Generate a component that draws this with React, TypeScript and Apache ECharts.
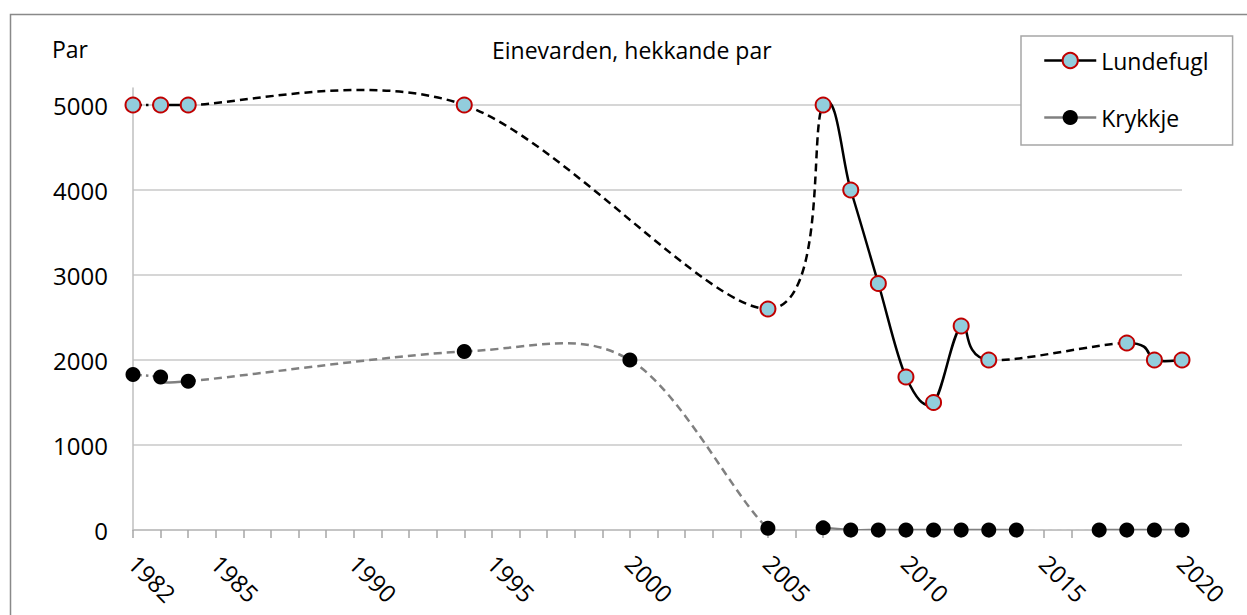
import React, { useEffect, useRef } from "react";
import * as echarts from "echarts";

const categories = [
  "1982", "1983", "1984", "1985", "1986", "1987", "1988", "1989", "1990", "1991",
  "1992", "1993", "1994", "1995", "1996", "1997", "1998", "1999", "2000", "2001",
  "2002", "2003", "2004", "2005", "2006", "2007", "2008", "2009", "2010", "2011",
  "2012", "2013", "2014", "2015", "2016", "2017", "2018", "2019", "2020",
];
const labelledYears = ["1982", "1985", "1990", "1995", "2000", "2005", "2010", "2015", "2020"];

const yMin = 0;
const yMax = 5200;
const yInterval = 1000;

const puffinName = "Lundefugl";
const puffinYears = ["1982", "1983", "1984", "1994", "2005", "2007", "2008", "2009", "2010", "2011", "2012", "2013", "2018", "2019", "2020"];
const puffinValues = [5000, 5000, 5000, 5000, 2600, 5000, 4000, 2900, 1800, 1500, 2400, 2000, 2200, 2000, 2000];
const puffinSegmentStyles = ["dotted", "solid", "dashed", "dashed", "dashed", "solid", "solid", "solid", "solid", "solid", "solid", "dashed", "solid", "solid"];

const kittiwakeName = "Krykkje";
const kittiwakeYears = ["1982", "1983", "1984", "1994", "2000", "2005", "2007", "2008", "2009", "2010", "2011", "2012", "2013", "2014", "2017", "2018", "2019", "2020"];
const kittiwakeValues = [1830, 1800, 1750, 2100, 2000, 20, 25, 0, 0, 0, 0, 0, 0, 0, 0, 0, 0, 0];
const kittiwakeSegmentStyles = ["dotted", "solid", "dashed", "dashed", "dashed", "light", "solid", "solid", "solid", "solid", "solid", "solid", "solid", "light", "solid", "solid", "solid"];

const FONT = "'Open Sans', sans-serif";

type SegStyle = { stroke: string; lineWidth: number; lineDash: number[] | null; lineCap: string };

function puffinStyle(kind: string): SegStyle {
  if (kind === "dotted") return { stroke: "#000000", lineWidth: 2.5, lineDash: [2.5, 4], lineCap: "butt" };
  if (kind === "dashed") return { stroke: "#000000", lineWidth: 2.5, lineDash: [8, 5], lineCap: "butt" };
  return { stroke: "#000000", lineWidth: 2.5, lineDash: null, lineCap: "round" };
}

function kittiwakeStyle(kind: string): SegStyle {
  if (kind === "dotted") return { stroke: "#808080", lineWidth: 2.5, lineDash: [2.5, 4], lineCap: "butt" };
  if (kind === "dashed") return { stroke: "#808080", lineWidth: 2.5, lineDash: [8, 5], lineCap: "butt" };
  if (kind === "light") return { stroke: "#c8c8c8", lineWidth: 2, lineDash: [5, 4], lineCap: "butt" };
  return { stroke: "#808080", lineWidth: 2.5, lineDash: null, lineCap: "round" };
}

function curveSeries(name: string, xs: string[], ys: number[], kinds: string[], styleOf: (k: string) => SegStyle) {
  const idx = xs.map((x) => categories.indexOf(x));
  const data = kinds.map((_, i) => [idx[i], ys[i], idx[i + 1], ys[i + 1]]);
  return {
    type: "custom",
    name,
    z: 2,
    silent: true,
    clip: true,
    encode: { x: [0, 2], y: [1, 3] },
    data,
    renderItem: (params: any, api: any) => {
      const i = params.dataIndex;
      const pt = (k: number) => {
        const kk = Math.max(0, Math.min(idx.length - 1, k));
        return api.coord([idx[kk], ys[kk]]);
      };
      const p0 = pt(i - 1);
      const p1 = pt(i);
      const p2 = pt(i + 1);
      const p3 = pt(i + 2);
      const t = 1 / 6;
      const s = styleOf(kinds[i]);
      return {
        type: "bezierCurve",
        shape: {
          x1: p1[0],
          y1: p1[1],
          x2: p2[0],
          y2: p2[1],
          cpx1: p1[0] + (p2[0] - p0[0]) * t,
          cpy1: p1[1] + (p2[1] - p0[1]) * t,
          cpx2: p2[0] - (p3[0] - p1[0]) * t,
          cpy2: p2[1] - (p3[1] - p1[1]) * t,
        },
        style: {
          fill: "none",
          stroke: s.stroke,
          lineWidth: s.lineWidth,
          lineDash: s.lineDash,
          lineCap: s.lineCap,
        },
      };
    },
  };
}

export default function App() {
  const ref = useRef<HTMLDivElement>(null);

  useEffect(() => {
    if (!ref.current) return;
    const chart = echarts.init(ref.current, undefined, { renderer: "svg" });
    const option: any = {
      animation: false,
      backgroundColor: "#ffffff",
      textStyle: { fontFamily: FONT },
      title: {
        text: "Einevarden, hekkande par",
        left: 487,
        top: 33,
        textStyle: { fontFamily: FONT, fontSize: 23, fontWeight: "normal", color: "#000000" },
      },
      graphic: [
        {
          type: "rect",
          left: 8,
          top: 12,
          shape: { width: 1300, height: 700 },
          style: { fill: "none", stroke: "#898989", lineWidth: 1.5 },
          silent: true,
        },
        {
          type: "text",
          left: 52,
          top: 37,
          style: { text: "Par", fontFamily: FONT, fontSize: 23, fill: "#000000" },
        },
      ],
      legend: {
        orient: "vertical",
        left: 1021,
        top: 36,
        padding: [13, 24, 16, 22],
        itemGap: 34,
        itemWidth: 52,
        itemHeight: 19,
        backgroundColor: "#ffffff",
        borderColor: "#a6a6a6",
        borderWidth: 1.5,
        z: 10,
        textStyle: { fontFamily: FONT, fontSize: 23, color: "#000000" },
        data: [
          {
            name: puffinName,
            itemStyle: { color: "#92CDDC", borderColor: "#C00000", borderWidth: 2 },
            lineStyle: { color: "#000000", width: 2.5, opacity: 1, type: "solid" },
          },
          {
            name: kittiwakeName,
            itemStyle: { color: "#000000", borderWidth: 0 },
            lineStyle: { color: "#808080", width: 2.5, opacity: 1, type: "solid" },
          },
        ],
      },
      grid: { left: 133, right: 65, top: 88, bottom: 85, containLabel: false },
      xAxis: {
        type: "category",
        data: categories,
        boundaryGap: false,
        axisLine: { show: true, lineStyle: { color: "#bfbfbf", width: 1.5 } },
        axisTick: { show: true, interval: 0, length: 8, lineStyle: { color: "#a6a6a6", width: 1.5 } },
        splitLine: { show: false },
        axisLabel: {
          interval: (_i: number, v: string) => labelledYears.indexOf(v) >= 0,
          rotate: -45,
          margin: 29,
          fontFamily: FONT,
          fontSize: 24,
          color: "#000000",
        },
      },
      yAxis: {
        type: "value",
        min: yMin,
        max: yMax,
        interval: yInterval,
        axisLine: { show: true, lineStyle: { color: "#bfbfbf", width: 1.5 } },
        axisTick: { show: false },
        splitLine: { show: true, showMaxLine: false, lineStyle: { color: "#c8c8c8", width: 1.5 } },
        axisLabel: {
          showMaxLabel: false,
          formatter: (v: number) => String(v),
          margin: 25,
          fontFamily: FONT,
          fontSize: 24,
          color: "#000000",
        },
      },
      series: [
        curveSeries(kittiwakeName + " linje", kittiwakeYears, kittiwakeValues, kittiwakeSegmentStyles, kittiwakeStyle),
        curveSeries(puffinName + " linje", puffinYears, puffinValues, puffinSegmentStyles, puffinStyle),
        {
          type: "line",
          name: kittiwakeName,
          z: 4,
          data: kittiwakeYears.map((y, i) => [y, kittiwakeValues[i]]),
          symbol: "circle",
          symbolSize: 15,
          showAllSymbol: true,
          itemStyle: { color: "#000000", borderWidth: 0 },
          lineStyle: { width: 0, opacity: 0 },
        },
        {
          type: "line",
          name: puffinName,
          z: 5,
          data: puffinYears.map((y, i) => [y, puffinValues[i]]),
          symbol: "circle",
          symbolSize: 15,
          showAllSymbol: true,
          itemStyle: { color: "#92CDDC", borderColor: "#C00000", borderWidth: 2 },
          lineStyle: { width: 0, opacity: 0 },
        },
      ],
    };
    chart.setOption(option);
    return () => chart.dispose();
  }, []);

  return (
    <div
      ref={ref}
      style={{ position: "fixed", left: 0, top: 0, width: 1247, height: 615, background: "#ffffff" }}
    />
  );
}
